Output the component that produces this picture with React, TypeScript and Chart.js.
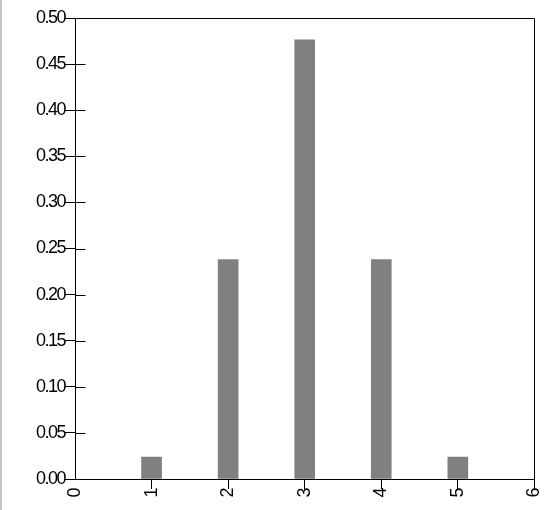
import React, { useEffect, useRef } from "react";
import { Chart, registerables } from "chart.js";

Chart.register(...registerables);

const xValues = [1, 2, 3, 4, 5];
const probabilities = [0.0238, 0.2381, 0.4762, 0.2381, 0.0238];
const xMin = 0;
const xMax = 6;
const yMin = 0;
const yMax = 0.5;
const yStep = 0.05;

const FONT = { family: "'Liberation Sans', Arial, sans-serif", size: 18 };

const framePlugin = {
  id: "frame",
  beforeDraw(chart: any) {
    try {
      chart.ctx.letterSpacing = "-1.5px";
    } catch (e) {}
  },
  afterDraw(chart: any) {
    const { ctx, chartArea, scales } = chart;
    const { left, top, right, bottom } = chartArea;
    const L = Math.round(left) + 0.5;
    const T = Math.round(top) + 0.5;
    const R = Math.round(right) + 0.5;
    const B = Math.round(bottom) + 0.5;
    ctx.save();
    ctx.strokeStyle = "#000";
    ctx.lineWidth = 1;
    ctx.beginPath();
    ctx.moveTo(L, B);
    ctx.lineTo(L, T);
    ctx.lineTo(R, T);
    ctx.lineTo(R, B);
    ctx.lineTo(L, B);
    ctx.stroke();
    // inward y ticks
    const y = scales.y;
    ctx.beginPath();
    y.ticks.forEach((t: any) => {
      const py = Math.round(y.getPixelForValue(t.value)) + 0.5;
      ctx.moveTo(L, py);
      ctx.lineTo(L + 10, py);
    });
    ctx.stroke();
    ctx.restore();
  },
};

export default function App() {
  const ref = useRef<HTMLCanvasElement>(null);
  useEffect(() => {
    if (!ref.current) return;
    const chart = new Chart(ref.current, {
      type: "bar",
      data: {
        datasets: [
          {
            data: xValues.map((x, i) => ({ x, y: probabilities[i] })),
            backgroundColor: "#808080",
            borderWidth: 0,
            barThickness: 20,
          },
        ],
      },
      options: {
        animation: false,
        responsive: false,
        maintainAspectRatio: false,
        layout: { padding: { left: 0, top: 18, right: 19, bottom: 0 } },
        plugins: { legend: { display: false }, tooltip: { enabled: false } },
        scales: {
          x: {
            type: "linear",
            min: xMin,
            max: xMax,
            offset: false,
            afterFit: (s: any) => {
              s.height = 31;
            },
            border: { display: true, color: "#000", width: 1 },
            grid: {
              offset: false,
              drawOnChartArea: false,
              drawTicks: true,
              tickLength: 10,
              color: (c: any) => (c.tick && c.tick.value === 0 ? "rgba(0,0,0,0)" : "#000"),
            },
            ticks: {
              stepSize: 1,
              minRotation: 90,
              maxRotation: 90,
              padding: 0,
              color: "#000",
              font: FONT,
              callback: (v: any) => String(v),
            },
          },
          y: {
            type: "linear",
            min: yMin,
            max: yMax,
            afterFit: (s: any) => {
              s.width = 75;
            },
            border: { display: true, color: "#000", width: 1 },
            grid: { drawOnChartArea: false, drawTicks: true, tickLength: 10, color: "#000" },
            ticks: {
              stepSize: yStep,
              padding: 0,
              color: "#000",
              font: FONT,
              callback: (v: any) => Number(v).toFixed(2),
            },
          },
        },
      },
      plugins: [framePlugin],
    });
    return () => chart.destroy();
  }, []);
  return (
    <div
      style={{
        position: "fixed",
        left: 0,
        top: 0,
        width: 556,
        height: 510,
        background: "#fff",
        overflow: "hidden",
      }}
    >
      <div
        style={{
          position: "absolute",
          left: 0,
          top: 0,
          width: 2,
          height: 510,
          background: "#c4c4c4",
        }}
      />
      <canvas ref={ref} width={556} height={510} style={{ display: "block" }} />
    </div>
  );
}
